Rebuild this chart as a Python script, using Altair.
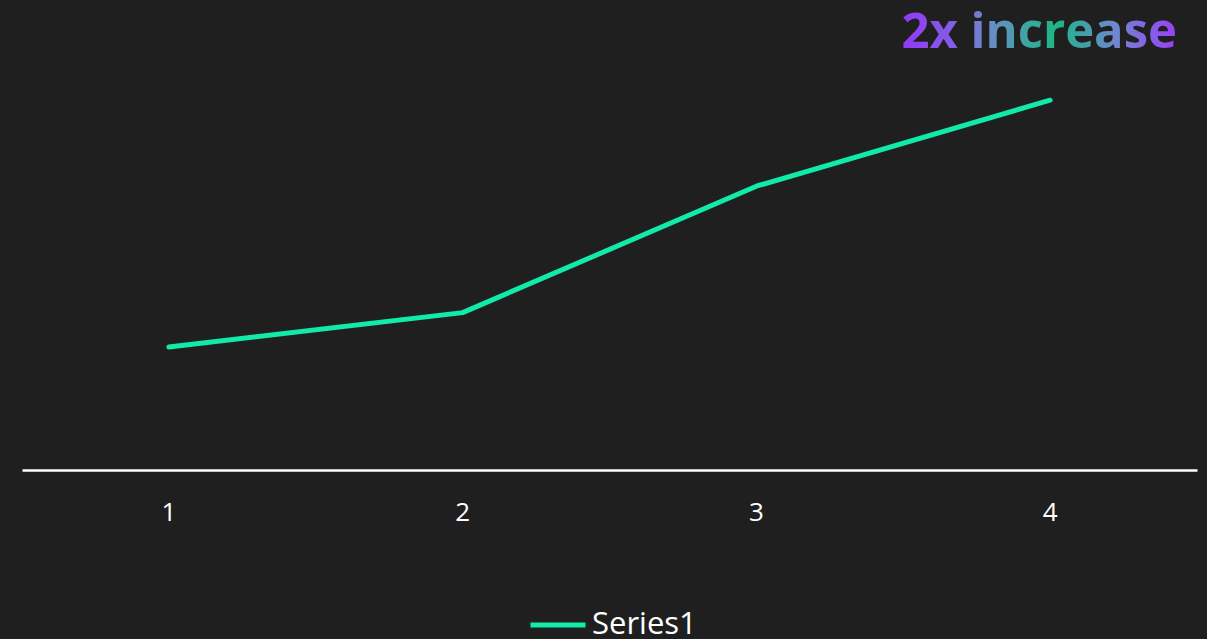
import altair as alt
import pandas as pd

# Chart data
categories = ["1", "2", "3", "4"]
series1 = [1.43, 1.83, 3.30, 4.30]
series_name = "Series1"

BG = "#1f1f1f"
LINE = "#12eaa9"
FONT = "Open Sans"

df = pd.DataFrame({"cat": categories, "value": series1, "series": [series_name] * len(categories)})

line = alt.Chart(df).mark_line(strokeWidth=5, strokeCap="round", strokeJoin="round").encode(
    x=alt.X(
        "cat:N",
        sort=categories,
        scale=alt.Scale(type="band", paddingInner=0, paddingOuter=0),
        axis=alt.Axis(
            title=None,
            labelAngle=0,
            labelFontSize=26,
            labelFont=FONT,
            labelColor="#ffffff",
            labelPadding=29,
            ticks=False,
            grid=False,
            domainColor="#ffffff",
            domainWidth=2.5,
        ),
    ),
    y=alt.Y("value:Q", scale=alt.Scale(domain=[0, 5]), axis=None),
    color=alt.Color(
        "series:N",
        scale=alt.Scale(range=[LINE]),
        legend=alt.Legend(
            title=None,
            orient="none",
            legendX=506,
            legendY=555,
            symbolType="stroke",
            symbolStrokeWidth=5,
            symbolSize=3025,
            labelFontSize=31,
            labelFont=FONT,
            labelColor="#ffffff",
            labelOffset=4,
        ),
    ),
)

gradient = alt.Gradient(
    gradient="linear",
    x1=0, x2=1, y1=0, y2=0,
    stops=[
        alt.GradientStop(offset=0.0, color="#9238f6"),
        alt.GradientStop(offset=0.2, color="#8260e4"),
        alt.GradientStop(offset=0.32, color="#6a8cc8"),
        alt.GradientStop(offset=0.56, color="#1cb786"),
        alt.GradientStop(offset=0.78, color="#6f86d0"),
        alt.GradientStop(offset=1.0, color="#9a40f8"),
    ],
)

headline = alt.Chart(pd.DataFrame({"t": ["2x increase"]})).mark_text(
    align="right",
    baseline="alphabetic",
    font=FONT,
    fontSize=49,
    fontWeight="bold",
    fill=gradient,
).encode(
    text="t:N",
    x=alt.value(1155),
    y=alt.value(8),
)

chart = (
    alt.layer(line, headline)
    .properties(
        width=1175,
        height=430,
        background=BG,
        padding={"left": 22, "top": 40, "right": 10, "bottom": 169},
        autosize=alt.AutoSizeParams(type="none"),
    )
    .configure_view(stroke=None)
)

chart.save("out.html", embed_options={"renderer": "svg", "actions": False})
